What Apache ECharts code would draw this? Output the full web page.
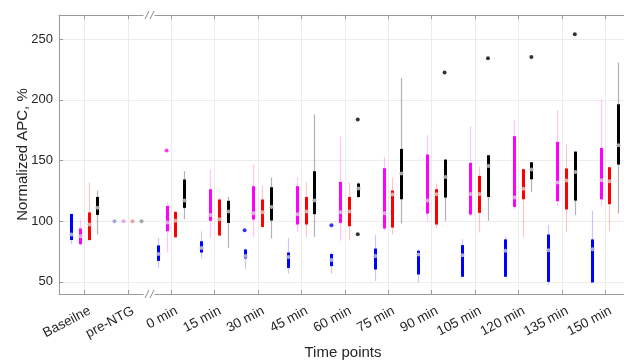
<!DOCTYPE html>
<html>
<head>
<meta charset="utf-8">
<script src="https://cdn.jsdelivr.net/npm/echarts@6/dist/echarts.min.js"></script>
<style>
  html, body { margin: 0; padding: 0; background: #fff; }
  #chart { width: 624px; height: 361px; }
</style>
</head>
<body>
<div id="chart"></div>
<script>
// categories (x positions 1..13)
const categories = ['Baseilne', 'pre-NTG', '0 min', '15 min', '30 min', '45 min', '60 min',
  '75 min', '90 min', '105 min', '120 min', '135 min', '150 min']
const yTicks = [50, 100, 150, 200, 250]

// each row: [min, q1, median, q3, max]
const blueBoxes = [
  [81, 84.5, 89, 106, 106], [100, 100, 100, 100, 100], [61.5, 67.3, 73, 80, 86.3],
  [69.3, 74.2, 78, 83.5, 91.5], [60.5, 69.3, 71.4, 76.7, 77.5], [57, 61.5, 70.6, 74.2, 86.3],
  [57, 63, 68, 73, 74], [50.8, 60.2, 71.4, 77.5, 88.5], [49.5, 56.1, 72.6, 75.6, 77],
  [54.2, 54.2, 72, 80.3, 85], [54.2, 54.2, 75.6, 85, 87.1], [47.3, 50, 76.1, 89, 96.7],
  [49.5, 49.5, 76.8, 85, 108.8]
]
const magentaBoxes = [
  [80.4, 81, 87.7, 94, 101.7], [100, 100, 100, 100, 100], [74.2, 91.8, 99, 112.6, 115.4],
  [86, 100.3, 105.2, 126.4, 142.9], [87.1, 101.4, 106.6, 128.9, 146.7], [91.2, 97.3, 105.8, 128.9, 136],
  [84, 98.6, 107.4, 132.4, 170.1], [92, 94, 106.6, 143.7, 153], [99.5, 106.3, 117, 155, 170.9],
  [104, 105.5, 122.5, 148.1, 178.3], [110, 111.8, 119.5, 170.1, 183.8], [112.4, 116.5, 131.9, 165.4, 191.5],
  [112.4, 118.1, 133.8, 160.4, 200.3]
]
const redBoxes = [
  [84.4, 84.4, 97.3, 107.2, 131.9], [100, 100, 100, 100, 100], [86, 86.8, 100.3, 107.7, 108.5],
  [88.2, 88.2, 101.7, 117.9, 119.5], [94.5, 95.3, 107.4, 117.9, 129.1], [86.8, 97.3, 108, 120, 132.2],
  [84, 95.9, 108, 120, 131.6], [89, 94.8, 122, 125.3, 136], [94, 97.3, 122.3, 126.4, 131.1],
  [90.7, 106.9, 122.5, 137.4, 144.8], [87.1, 118.1, 126.7, 142.9, 143.5], [91, 109.7, 133.5, 143.5, 163.5],
  [91.8, 114, 133, 144.5, 145]
]
const blackBoxes = [
  [89, 105.2, 111, 120, 125.3], [100, 100, 100, 100, 100], [101.7, 111, 117, 134.4, 141.2],
  [78, 98.6, 108, 116.8, 120], [85.8, 100.6, 111.8, 128, 136], [87.1, 105.8, 117, 141.2, 188],
  [119, 120, 127, 131.1, 132], [98, 118.1, 139.3, 159.6, 218.1], [100.3, 119.5, 136.5, 150.8, 151],
  [100.3, 120, 145.6, 154.4, 154.4], [123.9, 134.6, 142.6, 148.6, 148.6], [105, 117, 140.5, 157.4, 157.4],
  [106.3, 146.7, 162.6, 196.4, 230.8]
]

// outliers: [categoryIndex, value]
const blueOutliers = [[4, 92.6], [6, 96.7]]
const magentaOutliers = [[2, 158.3]]
const redOutliers = []
const blackOutliers = [[6, 183.8], [6, 89.3], [8, 222.5], [9, 234.3], [10, 235.4], [11, 254.1]]

const groups = [
  { name: 'blue', boxes: blueBoxes, outliers: blueOutliers, color: '#0000ff', light: 'rgba(70,70,255,0.3)', dot: '#a6a6e6', off: -13.4 },
  { name: 'magenta', boxes: magentaBoxes, outliers: magentaOutliers, color: '#ff00ff', light: 'rgba(255,60,255,0.3)', dot: '#e6a6e6', off: -4.6 },
  { name: 'red', boxes: redBoxes, outliers: redOutliers, color: '#ff0000', light: 'rgba(255,60,60,0.3)', dot: '#e6a6a6', off: 4.2 },
  { name: 'black', boxes: blackBoxes, outliers: blackOutliers, color: '#000000', light: 'rgba(0,0,0,0.3)', dot: '#a6a6a6', off: 12.9 }
]

const tickPos = categories.map((c, i) => i + 1)
// labels sit slightly right of their ticks, like the original
const labelShift = 0.125
const labelPos = tickPos.map(p => p + labelShift)

const chart = echarts.init(document.getElementById('chart'), null, { renderer: 'canvas' })

function makeRender (g) {
  return function (params, api) {
    const x = api.value(0)
    const lo = api.coord([x, api.value(1)])
    const q1 = api.coord([x, api.value(2)])
    const med = api.coord([x, api.value(3)])
    const q3 = api.coord([x, api.value(4)])
    const hi = api.coord([x, api.value(5)])
    const px = Math.round(lo[0] + g.off) + 0.5
    const children = []
    if (hi[1] !== lo[1]) {
      children.push({ type: 'line', shape: { x1: px, y1: hi[1], x2: px, y2: lo[1] }, style: { stroke: g.light, lineWidth: 1.2 } })
    }
    if (q1[1] !== q3[1]) {
      children.push({ type: 'line', shape: { x1: px, y1: q3[1], x2: px, y2: q1[1] }, style: { stroke: g.color, lineWidth: 3 } })
    }
    children.push({ type: 'circle', shape: { cx: px, cy: med[1], r: 2 }, style: { fill: g.dot } })
    return { type: 'group', children: children }
  }
}

const series = []
groups.forEach(g => {
  series.push({
    name: g.name,
    type: 'custom',
    renderItem: makeRender(g),
    encode: { x: 0, y: [1, 2, 3, 4, 5] },
    data: g.boxes.map((b, i) => [i + 1].concat(b)),
    z: 3
  })
  series.push({
    name: g.name + ' outliers',
    type: 'scatter',
    symbol: 'circle',
    symbolSize: 4,
    symbolOffset: [g.off, 0],
    itemStyle: { color: g.color },
    data: g.outliers.map(o => [o[0] + 1, o[1]]),
    z: 4
  })
})

const axisColor = '#9a9a9a'
const labelColor = '#262626'
const option = {
  animation: false,
  textStyle: { fontFamily: 'Liberation Sans, Arial, sans-serif' },
  grid: { left: 59, right: -3, top: 15, bottom: 67, containLabel: false, outerBoundsMode: 'none' },
  xAxis: [
    {
      type: 'value',
      min: 0.415,
      max: 13.5,
      name: 'Time points',
      nameLocation: 'middle',
      nameGap: 51,
      nameMoveOverlap: false,
      nameTextStyle: { fontSize: 15, color: labelColor },
      axisLine: { show: true, lineStyle: { color: axisColor } },
      axisTick: { show: true, inside: true, length: 4, customValues: tickPos, lineStyle: { color: axisColor } },
      axisLabel: {
        customValues: labelPos,
        rotate: 28,
        margin: 16,
        fontSize: 13.5,
        color: labelColor,
        formatter: v => categories[Math.round(v - labelShift) - 1] || ''
      },
      splitLine: { show: true, lineStyle: { color: '#ececec' } }
    },
    {
      type: 'value',
      position: 'top',
      min: 0.415,
      max: 13.5,
      axisLine: { show: true, lineStyle: { color: axisColor } },
      axisTick: { show: true, inside: true, length: 4, customValues: tickPos, lineStyle: { color: axisColor } },
      axisLabel: { show: false },
      splitLine: { show: false }
    }
  ],
  yAxis: {
    type: 'value',
    min: 40,
    max: 270,
    name: 'Normalized APC, %',
    nameLocation: 'middle',
    nameGap: 29,
    nameMoveOverlap: false,
    nameTextStyle: { fontSize: 15, color: labelColor },
    axisLine: { show: true, lineStyle: { color: axisColor } },
    axisTick: { show: true, inside: true, length: 4, customValues: yTicks, lineStyle: { color: axisColor } },
    axisLabel: { customValues: yTicks, fontSize: 13, color: labelColor, margin: 6 },
    splitLine: { show: true, lineStyle: { color: '#ececec' } }
  },
  series: series
}
chart.setOption(option)

// axis break marks between pre-NTG and 0 min
function breakMarks () {
  const bx = chart.convertToPixel({ xAxisIndex: 0 }, 2.5)
  const yTop = chart.convertToPixel({ yAxisIndex: 0 }, 270)
  const yBot = chart.convertToPixel({ yAxisIndex: 0 }, 40)
  const els = []
  ;[yTop, yBot].forEach(y => {
    els.push({ type: 'rect', shape: { x: bx - 6, y: y - 2, width: 11, height: 4 }, style: { fill: '#fff' }, z: 10 })
    ;[-2.5, 2.5].forEach(d => {
      els.push({ type: 'line', shape: { x1: bx + d - 2, y1: y + 4, x2: bx + d + 2, y2: y - 4 }, style: { stroke: '#8a8a8a', lineWidth: 1 }, z: 11 })
    })
  })
  chart.setOption({ graphic: els })
}
breakMarks()
</script>
</body>
</html>
